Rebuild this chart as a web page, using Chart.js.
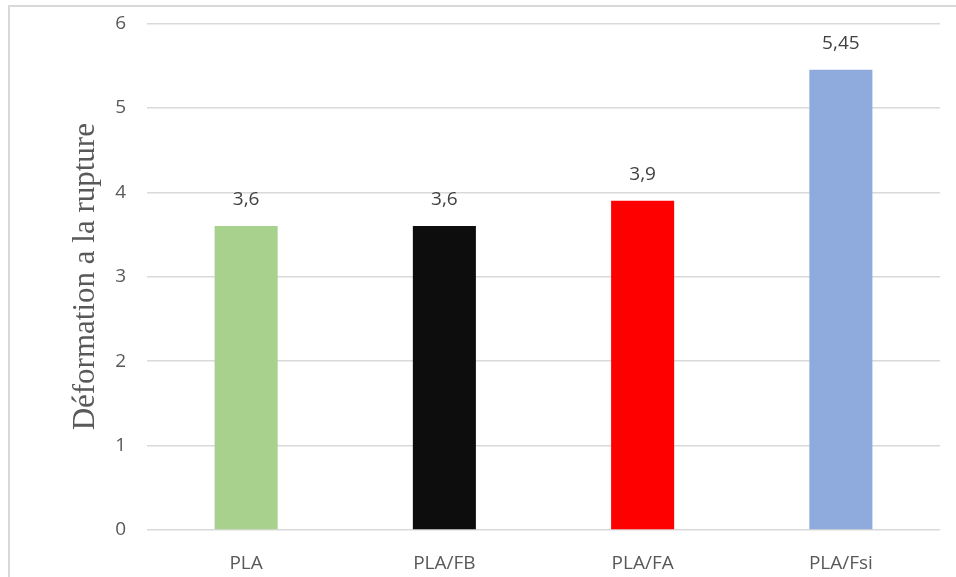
<!DOCTYPE html>
<html>
<head>
<meta charset="utf-8">
<script src="https://cdn.jsdelivr.net/npm/chart.js@4.4.0/dist/chart.umd.min.js"></script>
<style>
  html, body { margin: 0; padding: 0; background: #fff; overflow: hidden; }
  #frame { position: absolute; left: 8px; top: 5px; width: 1000px; height: 620px; border: 2px solid #d9d9d9; }
  /* the y tick padding also pads the plot top, so the canvas sits a bit higher */
  #wrap { position: absolute; left: 0; top: -9px; width: 956px; height: 586px; }
</style>
</head>
<body>
<div id="frame"></div>
<div id="wrap"><canvas id="chart" width="956" height="586"></canvas></div>
<script>
// Déformation à la rupture par matériau
const categories = ['PLA', 'PLA/FB', 'PLA/FA', 'PLA/Fsi'];
const values = [3.6, 3.6, 3.9, 5.45];
const barColors = ['#a9d18e', '#0d0d0d', '#ff0000', '#8faadc'];
const yTicks = [0, 1, 2, 3, 4, 5, 6];

// value labels above each bar, French decimal comma
const valueLabels = {
    id: 'valueLabels',
    afterDatasetsDraw(chart) {
        const ctx = chart.ctx;
        const meta = chart.getDatasetMeta(0);
        ctx.save();
        ctx.font = '19px "Open Sans", sans-serif';
        ctx.fillStyle = '#404040';
        ctx.textAlign = 'center';
        ctx.textBaseline = 'middle';
        meta.data.forEach((bar, i) => {
            ctx.fillText(String(values[i]).replace('.', ','), bar.x, bar.y - 26);
        });
        ctx.restore();
    }
};

new Chart(document.getElementById('chart'), {
    type: 'bar',
    data: {
        labels: categories,
        datasets: [{
            data: values,
            backgroundColor: barColors,
            borderWidth: 0,
            categoryPercentage: 1,
            barPercentage: 0.318
        }]
    },
    options: {
        responsive: false,
        animation: false,
        layout: { padding: { top: 0, right: 16, left: 0, bottom: 0 } },
        plugins: {
            legend: { display: false },
            tooltip: { enabled: false }
        },
        scales: {
            x: {
                grid: { display: false },
                border: { display: false },
                ticks: {
                    color: '#595959',
                    font: { family: '"Open Sans", sans-serif', size: 19 },
                    padding: 14
                },
                afterFit(scale) { scale.height = 47; }
            },
            y: {
                min: 0,
                max: 6,
                afterBuildTicks(scale) { scale.ticks = yTicks.map(v => ({ value: v })); },
                grid: { color: '#d9d9d9', lineWidth: 1.5, drawTicks: false },
                border: { display: false },
                ticks: {
                    color: '#595959',
                    font: { family: '"Open Sans", sans-serif', size: 19 },
                    padding: 21
                },
                title: {
                    display: true,
                    text: 'Déformation a la rupture',
                    color: '#595959',
                    font: { family: '"Liberation Serif", "Times New Roman", serif', size: 31 },
                    padding: { top: 67, bottom: 0 }
                },
                afterFit(scale) { scale.width = 147; }
            }
        }
    },
    plugins: [valueLabels]
});
</script>
</body>
</html>
